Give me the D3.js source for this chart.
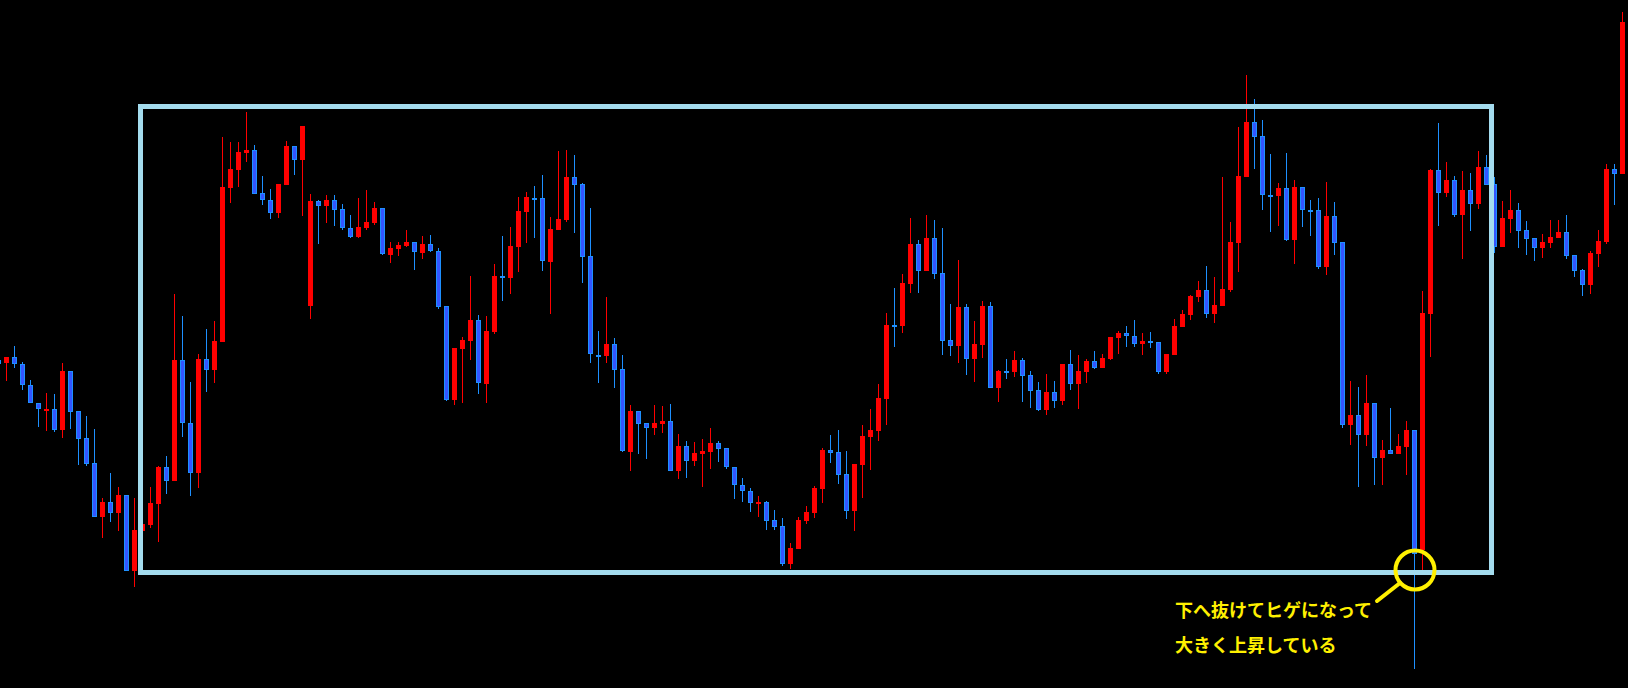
<!DOCTYPE html>
<html>
<head>
<meta charset="utf-8">
<script src="https://cdn.jsdelivr.net/npm/d3@7"></script>
<style>
  html, body { margin: 0; padding: 0; background: #000; overflow: hidden; }
  svg { display: block; }
</style>
</head>
<body>
<svg id="chart" width="1628" height="688"></svg>
<script>
// ---- data (price points, arbitrary units) ----
const opens = [
340,336.7,342.7,335.7,314.7,296.7,290.7,290.7,270,329,
289,262,237,183.3,198,187.3,205,129.3,169.3,175,
196.3,233,219.3,340,277,227.3,341,330.3,358.3,512.3,
530.3,547,550,506.7,500,487.3,514.7,554,540.3,394.3,
499,494.3,500,490.7,471.7,462.3,472.3,477,491.7,445.3,
451,454,457.7,447.3,455.7,449,393.7,300,351,359,
379.7,316.3,368,423.7,422.3,453.3,488.3,502.3,501.7,438.3,
470.3,480,523,516,443.7,345.3,344.3,356,330.7,248.3,
289,277,272.3,276.3,279,229.3,254,239.3,246.3,248.3,
257,251.7,232.7,214.7,209,197.3,198,180,174,136,
151,179,187.3,211,250,248,226,189.3,235,263,
269,301,375,374,416,456,428.7,462,427,360,
354.3,393,341.3,355.3,394,312.3,328.7,328.3,340,325,
310,290.3,308,299.3,336,316.3,328.3,339,332.3,341,
362.3,367,364,356.3,358.7,358,328.3,345.3,373.3,385.3,
403,410,386,394,410,457,523,578,564,505.3,
504.3,512,460,513,490,490,433,484,458,275,
285,265,297,242,250,246,253,270,150,386.3,
530.2,507.4,520.1,485,510,496,532.8,516.1,453,481,
489.8,470,462.2,452,457,462.2,468,445,430.1,414.8,
446,457.8,531.1,525.8
];
const highs = [
341,342.7,354,338,320,296.7,306.7,305.7,336.7,329,
289,284,271,202,227,213,205,202,178,213,
234,244,406,384,318,346,371,379,563,558,
558,588,555,524,511,516,559,554,574,506,
500,505,505,496,485,502,510,498,491.7,458,
458,470,457.7,464,465,451.7,393.7,352,363,424,
385,384,436,464,473,503,508,514,525,483,
549,550,545,516.7,492,369,403,362,345,295,
289,277,295,294,296,266,259,258,261,272,
259,251.7,232.7,222,212,204,199.3,190,182,156.7,
182.7,194,214,252,265,270,249,236,275,291,
316,387,412,426,482,460,485,480,472,396,
440,396,379,399,398,330,341,349,342,329,
318.3,326,319,336,350,345,341,349,346,363,
369,374,380,367,368,358,346,381,390,405,
419,434,423,523,478,573,625,601,580,546,
517,547,520,513,500,502,518,498,458,319,
313,325,297,260,292,266,279,270,409,531,
577,538.1,523.6,529,527.1,549,545,523.2,499,510,
497,479,462.2,466.1,480.2,480.2,485,445,431.5,449,
470.1,535.9,536,688
];
const lows = [
336,319.3,332.3,310.3,296.7,273.3,269.3,268.3,262.3,271,
235,234.3,183.3,162.3,178.3,169.3,129.3,113.3,168,172.3,
158.3,206.3,219.3,263.3,204.3,212.3,308.3,317,358.3,497,
513,538.3,506.3,495.3,481.3,482.3,514.7,525.3,484.3,381,
456.3,477.3,474.3,470.3,462.3,462.3,470.3,475.3,445.3,437.3,
444.3,453.3,430.3,441.3,448.3,391,299,295,297,340,
306.3,297,366.3,399.3,406.3,428.3,457,462.3,429.3,386.3,
470.3,478.3,467.3,417.3,337.3,317.3,337.3,312.3,248.3,229,
246,241,265,267,229.3,221,222.3,234,213.3,231,
238,231,201.3,198.3,188.3,183.3,170,170,134.3,131,
151,176.3,182.3,197,237,216,181,169,202.3,230.3,
259,275,353,367,407,407,428.7,421.3,345.3,344.3,
337.3,325.3,318.3,342.3,312.3,298.3,321.3,323.3,298.3,292.3,
289.3,285.3,292.3,295.3,310.3,291.3,317.3,331.3,332.3,340,
346.3,353.3,353.3,345.3,352.3,326.3,326.3,345.3,373.3,380.3,
398,382,377,394,408,428,523,531,490,468,
474,459,436,473,464,431,425,445,272,255,
213,254,215,215,246,246,225,31,130,343.3,
473.6,503,483.2,441.5,469.2,491.1,515.3,447.3,453,466.6,
451.6,444.6,439.4,442.4,452,462.2,441.5,423.1,403.8,406,
432.8,456.5,495,526
];
const closes = [
336.5,342.7,335.7,314.3,296.7,290.7,291,270,329,288.3,
261.3,236,183.3,198.3,187.3,205,129.3,170,176,197,
233,219.3,340,276.7,227.3,341,330.3,359,513,531,
548,550,506.3,499.3,487.3,516,554,540.3,574,499,
494.3,500,490.3,471.3,462.3,472.7,478,492,445.3,452,
455,458,447.3,456,448.3,393.3,300,352,360,380,
316.3,369,424,423,454,489,503,501.7,438.3,471,
481,523,515.3,443.3,345.7,345,356,330.3,248.3,289,
276.3,272.3,277,279,229.3,254,239.3,247,249,257,
251.3,232.3,214.3,208.3,197.3,197.7,179.3,173.3,136,152,
180,188,212,250,247.3,225.3,189.3,236,264,270,
302,375,374.3,417,456,429.3,462,426.3,359.3,354.3,
393,341.3,356,394,312.3,329,328.3,340,324.3,309.3,
290.3,308,299.3,336,316.3,329,339,332.3,342,363,
367,363.7,356.3,359,358.3,328.3,346,374,386,404,
410,386,395,411,458,524,578,563.3,505.3,505,
512,460,513,490,489.7,433,484,457,275,285,
265,297,242,250,246,254,270,146,387,530.2,
507.4,520.1,485,510,496,532.8,515.3,453,482,489.8,
469.2,461,452,458.2,463,468,444.2,429.3,414.8,446.8,
459.1,531.1,525.8,678
];
const bars = opens.map((o, i) => i);   // bar index categories
const noteLines = ["下へ抜けてヒゲになって", "大きく上昇している"];

// ---- drawing ----
const W = 1628, H = 688;
const svg = d3.select("#chart");
svg.append("rect").attr("width", W).attr("height", H).attr("fill", "#000");

const x = d3.scaleLinear().domain([0, bars.length - 1]).range([-1.5, -1.5 + 8 * (bars.length - 1)]);
const y = d3.scaleLinear().domain([0, 700]).range([700, 0]);

const data = bars.map(i => ({ i, o: opens[i], h: highs[i], l: lows[i], c: closes[i] }));
const up = d => d.c >= d.o;
const wickCol = d => up(d) ? "#ff0000" : "#1e90ff";

const g = svg.append("g");
g.selectAll("line.wick").data(data).join("line")
  .attr("class", "wick")
  .attr("x1", d => x(d.i)).attr("x2", d => x(d.i))
  .attr("y1", d => y(d.h)).attr("y2", d => y(d.l))
  .attr("stroke", wickCol).attr("stroke-width", 1)
  .attr("shape-rendering", "crispEdges");

g.selectAll("rect.body").data(data).join("rect")
  .attr("class", "body")
  .attr("x", d => x(d.i) - 2)
  .attr("width", 4)
  .attr("y", d => Math.round(y(Math.max(d.o, d.c))) + 0.5)
  .attr("height", d => Math.max(1, Math.round(Math.abs(y(d.o) - y(d.c))) - 1))
  .attr("fill", d => up(d) ? "#ff0000" : "#3355ff")
  .attr("stroke", wickCol).attr("stroke-width", 1)
  .attr("shape-rendering", "crispEdges");

// ---- annotation ----
svg.append("rect")
  .attr("x", 140.5).attr("y", 106.5).attr("width", 1351).attr("height", 466)
  .attr("fill", "none").attr("stroke", "#a4dcee").attr("stroke-width", 5);

const yellow = "#fff000";
svg.append("circle")
  .attr("cx", 1415).attr("cy", 570).attr("r", 19.5)
  .attr("fill", "none").attr("stroke", yellow).attr("stroke-width", 4);
svg.append("line")
  .attr("x1", 1400).attr("y1", 583).attr("x2", 1377).attr("y2", 601)
  .attr("stroke", yellow).attr("stroke-width", 4).attr("stroke-linecap", "round");

svg.selectAll("text.note").data(noteLines).join("text")
  .attr("class", "note")
  .attr("x", 1175)
  .attr("y", (d, i) => 617 + i * 35)
  .attr("fill", yellow)
  .attr("font-family", "'Noto Sans CJK JP', 'Noto Sans', sans-serif")
  .attr("font-weight", "bold")
  .attr("font-size", 18)
  .text(d => d);
</script>
</body>
</html>
